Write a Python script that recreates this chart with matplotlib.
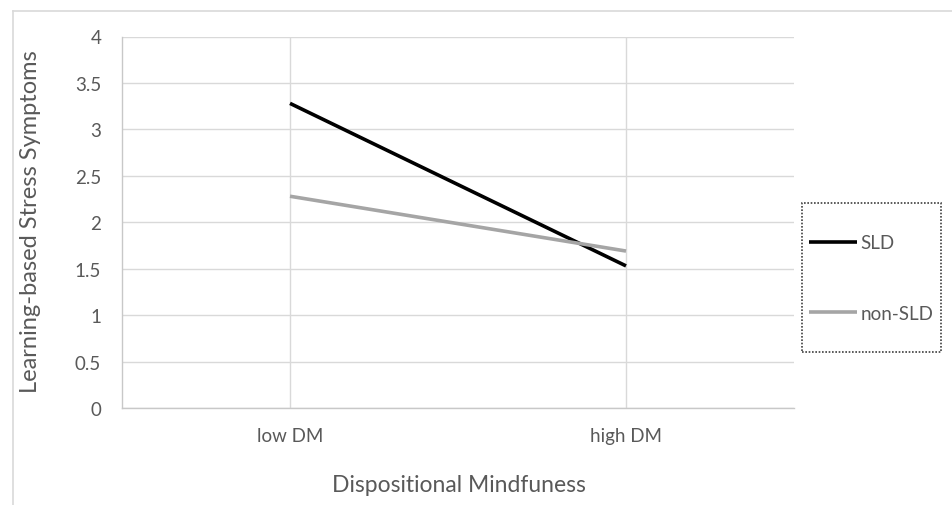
import matplotlib.pyplot as plt
from matplotlib.patches import Rectangle
from matplotlib.lines import Line2D

# data
categories = ['low DM', 'high DM']
sld = [3.28, 1.53]
non_sld = [2.28, 1.69]
yticks = [0, 0.5, 1, 1.5, 2, 2.5, 3, 3.5, 4]

plt.rcParams['font.family'] = ['Lato', 'DejaVu Sans']
txt = '#595959'
grid = '#d9d9d9'

W, H = 953, 506
fig = plt.figure(figsize=(W / 100, H / 100), dpi=100)
ax = fig.add_axes([122 / W, 1 - 409 / H, (794 - 122) / W, (409 - 37.5) / H])

x = list(range(len(categories)))
ax.plot(x, sld, color='black', lw=2.6, label='SLD', solid_capstyle='butt', zorder=3)
ax.plot(x, non_sld, color='#a5a5a5', lw=2.6, label='non-SLD', solid_capstyle='butt', zorder=3)

ax.set_xlim(-0.5, 1.5)
ax.set_ylim(0, 4)
ax.set_xticks(x)
ax.set_xticklabels(categories)
ax.set_yticks(yticks)
ax.set_yticklabels([f'{v:g}' for v in yticks])
ax.tick_params(length=0, labelsize=13.5, labelcolor=txt)
ax.tick_params(axis='y', pad=15)
ax.tick_params(axis='x', pad=14)
ax.grid(True, color=grid, lw=1)
ax.set_axisbelow(True)
for s in ['top', 'right']:
    ax.spines[s].set_visible(False)
for s in ['left', 'bottom']:
    ax.spines[s].set_color('#c8c8c8')
    ax.spines[s].set_linewidth(1)

fig.text(459 / W, 1 - 486 / H, 'Dispositional Mindfuness', fontsize=16.5, color=txt,
         ha='center', va='center')
fig.text(31 / W, 1 - 222 / H, 'Learning-based Stress Symptoms', fontsize=17, color=txt,
         ha='center', va='center', rotation=90)

# outer chart frame (top and left visible)
fig.add_artist(Line2D([13 / W, 1], [1 - 12 / H, 1 - 12 / H], color=grid, lw=1.2))
fig.add_artist(Line2D([13 / W, 13 / W], [0, 1 - 12 / H], color=grid, lw=1.2))

# legend box with dotted border
fig.patches.append(Rectangle((802 / W, 1 - 353 / H), (941 - 802) / W, (353 - 204) / H,
                             transform=fig.transFigure, fill=False, ec='#404040',
                             ls=(0, (1, 1)), lw=1.2))
leg = fig.legend(loc='center left', bbox_to_anchor=(809 / W, 1 - 279 / H),
                 frameon=False, fontsize=13.5, handlelength=2.55, handletextpad=0.2,
                 labelspacing=2.85, borderpad=0, borderaxespad=0)
for t in leg.get_texts():
    t.set_color(txt)

fig.savefig('out.png', dpi=100)
